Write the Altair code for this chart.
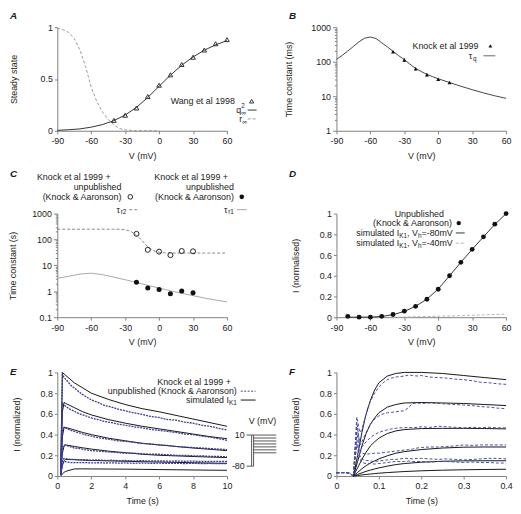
import altair as alt
import pandas as pd

# ---------------- data ----------------
# Panel A
A_V_wang = [-40, -30, -20, -10, 0, 10, 20, 30, 40, 50, 60]
A_wang = [0.10, 0.15, 0.22, 0.33, 0.44, 0.54, 0.64, 0.71, 0.78, 0.84, 0.88]
A_V_q = [-90, -80, -70, -60, -50, -40, -30, -20, -10, 0, 10, 20, 30, 40, 50, 60]
A_q2 = [0.004, 0.01, 0.018, 0.035, 0.06, 0.098, 0.152, 0.226, 0.322, 0.43, 0.537, 0.633, 0.713, 0.778, 0.83, 0.87]
A_V_r = [-90, -85, -80, -75, -70, -65, -60, -55, -50, -45, -40, -35, -30, -25, -20, -10, 0]
A_r = [0.99, 0.975, 0.95, 0.89, 0.78, 0.62, 0.42, 0.28, 0.18, 0.11, 0.055, 0.022, 0.009, 0.004, 0.002, 0.0005, 0.0]

# Panel B
B_V = [-90, -85, -80, -75, -70, -65, -60, -55, -50, -45, -40, -35, -30, -25, -20, -15, -10, -5, 0, 10, 20, 30, 40, 50, 60]
B_tau = [117, 152, 204, 277, 378, 482, 520, 470, 355, 270, 200, 150, 115, 85, 64, 52, 43, 37, 32, 25, 19.5, 15.5, 12.5, 10.3, 8.7]
B_V_pts = [-40, -30, -20, -10, 0, 10]
B_pts = [195, 112, 62, 42, 31, 25]
B_lo = [180, 98, 56, 37, 29, 24]
B_hi = [210, 128, 69, 47, 33, 26]

# Panel C
C_V = [-90, -80, -70, -60, -50, -40, -30, -20, -10, 0, 10, 20, 30, 40, 50, 60]
C_r1 = [3.2, 3.8, 4.6, 5.0, 4.4, 3.5, 2.8, 2.2, 1.7, 1.33, 1.05, 0.83, 0.68, 0.55, 0.46, 0.39]
C_V2 = [-90, -60, -40, -35, -30, -25, -20, -15, -10, -5, 0, 5, 10, 20, 40, 60]
C_r2 = [250, 250, 250, 250, 240, 205, 150, 90, 52, 37, 32, 30.5, 30, 30, 30, 30]
C_V_pts = [-20, -10, 0, 10, 20, 30]
C_pts_r2 = [165, 40, 34, 25, 36, 35]
C_pts_r1 = [2.25, 1.33, 1.18, 0.8, 1.02, 0.87]

# Panel D
D_V_pts = [-80, -70, -60, -50, -40, -30, -20, -10, 0, 10, 20, 30, 40, 50, 60]
D_I = [0.008, 0.0, 0.0, 0.008, 0.026, 0.058, 0.105, 0.173, 0.27, 0.40, 0.53, 0.655, 0.776, 0.898, 1.0]
D_V_80 = [-80, -70, -60, -50, -40, -30, -20, -10, 0, 10, 20, 30, 40, 50, 60]
D_I_80 = [0.0, 0.0, 0.001, 0.007, 0.024, 0.056, 0.105, 0.175, 0.272, 0.40, 0.53, 0.655, 0.776, 0.895, 1.0]
D_V_40 = [-40, -20, 0, 20, 40, 60]
D_I_40 = [0.0, 0.004, 0.009, 0.015, 0.022, 0.03]
D_err_V = [-80]
D_err_lo = [0.0]
D_err_hi = [0.025]

# Panel E
E_t_sim = [0.2, 0.3, 0.4, 0.5, 1, 1.5, 2, 3, 4, 5, 6, 7, 8, 9, 10]
E_sim = [
    [0.02, 1.0, 0.985, 0.97, 0.90, 0.85, 0.80, 0.74, 0.69, 0.65, 0.62, 0.585, 0.55, 0.515, 0.48],
    [0.02, 0.62, 0.71, 0.70, 0.66, 0.62, 0.59, 0.545, 0.51, 0.48, 0.455, 0.43, 0.405, 0.38, 0.36],
    [0.02, 0.38, 0.47, 0.468, 0.445, 0.42, 0.40, 0.365, 0.34, 0.315, 0.30, 0.285, 0.27, 0.258, 0.245],
    [0.01, 0.22, 0.29, 0.30, 0.285, 0.272, 0.26, 0.24, 0.225, 0.21, 0.20, 0.194, 0.188, 0.183, 0.178],
    [0.01, 0.10, 0.15, 0.16, 0.157, 0.153, 0.15, 0.146, 0.142, 0.138, 0.135, 0.131, 0.128, 0.125, 0.122],
    [0.0, 0.02, 0.035, 0.045, 0.068, 0.069, 0.068, 0.067, 0.066, 0.064, 0.062, 0.06, 0.058, 0.056, 0.055],
]
E_t_dat = [0.2, 0.3, 0.4, 0.6, 0.8, 1.0, 1.3, 1.6, 2.0, 2.4, 2.8, 3.2, 3.6, 4.0, 4.5, 5.0, 5.5, 6.0, 6.5, 7.0, 7.5, 8.0, 8.5, 9.0, 9.5, 10.0]
E_dat = [
    [0.05, 0.98, 0.95, 0.915, 0.875, 0.85, 0.81, 0.775, 0.735, 0.71, 0.68, 0.665, 0.645, 0.63, 0.61, 0.595, 0.575, 0.565, 0.545, 0.54, 0.52, 0.51, 0.49, 0.48, 0.46, 0.445],
    [0.04, 0.70, 0.685, 0.66, 0.64, 0.625, 0.60, 0.585, 0.56, 0.545, 0.525, 0.515, 0.50, 0.49, 0.475, 0.465, 0.45, 0.44, 0.43, 0.42, 0.405, 0.40, 0.385, 0.375, 0.36, 0.345],
    [0.03, 0.45, 0.47, 0.455, 0.44, 0.43, 0.415, 0.40, 0.385, 0.37, 0.36, 0.35, 0.34, 0.335, 0.325, 0.315, 0.31, 0.30, 0.295, 0.285, 0.28, 0.275, 0.27, 0.265, 0.26, 0.255],
    [0.02, 0.28, 0.30, 0.29, 0.28, 0.27, 0.265, 0.255, 0.245, 0.24, 0.235, 0.23, 0.225, 0.22, 0.22, 0.215, 0.21, 0.21, 0.205, 0.20, 0.20, 0.195, 0.195, 0.19, 0.19, 0.185],
    [0.02, 0.15, 0.17, 0.165, 0.16, 0.16, 0.155, 0.158, 0.152, 0.155, 0.15, 0.152, 0.148, 0.15, 0.146, 0.148, 0.145, 0.146, 0.143, 0.145, 0.142, 0.144, 0.14, 0.142, 0.14, 0.14],
    [0.01, 0.12, 0.14, 0.135, 0.13, 0.13, 0.128, 0.13, 0.126, 0.128, 0.125, 0.127, 0.124, 0.126, 0.123, 0.125, 0.122, 0.124, 0.121, 0.123, 0.12, 0.122, 0.12, 0.121, 0.119, 0.12],
]

# Panel F
F_t_sim = [0.04, 0.05, 0.06, 0.07, 0.08, 0.09, 0.1, 0.12, 0.14, 0.16, 0.2, 0.25, 0.3, 0.35, 0.4]
F_sim = [
    [0.0, 0.2, 0.42, 0.6, 0.73, 0.83, 0.9, 0.965, 0.99, 1.0, 1.0, 0.99, 0.97, 0.95, 0.93],
    [0.0, 0.14, 0.29, 0.41, 0.5, 0.56, 0.61, 0.665, 0.69, 0.705, 0.71, 0.705, 0.70, 0.69, 0.68],
    [0.0, 0.08, 0.16, 0.23, 0.29, 0.33, 0.365, 0.41, 0.435, 0.448, 0.458, 0.46, 0.46, 0.458, 0.455],
    [0.0, 0.035, 0.07, 0.10, 0.125, 0.145, 0.165, 0.195, 0.22, 0.235, 0.255, 0.27, 0.278, 0.28, 0.28],
    [0.0, 0.015, 0.03, 0.045, 0.057, 0.068, 0.078, 0.095, 0.11, 0.12, 0.133, 0.142, 0.146, 0.147, 0.147],
    [0.0, 0.005, 0.01, 0.015, 0.019, 0.023, 0.027, 0.033, 0.038, 0.043, 0.05, 0.056, 0.06, 0.063, 0.065],
]
F_t_dat = [0, 0.01, 0.02, 0.03, 0.04, 0.048, 0.055, 0.06, 0.07, 0.08, 0.09, 0.1, 0.11, 0.12, 0.13, 0.14,
           0.15, 0.16, 0.17, 0.18, 0.19, 0.2, 0.22, 0.24, 0.26, 0.28, 0.3, 0.32, 0.34, 0.36, 0.38, 0.4]
F_dat = [
    [0.035, 0.03, 0.035, 0.03, 0.0, 0.57, 0.42, 0.45, 0.6, 0.72, 0.8, 0.86, 0.9, 0.93, 0.945, 0.955, 0.96, 0.965, 0.975, 0.97, 0.965, 0.97, 0.955, 0.95, 0.945, 0.935, 0.93, 0.92, 0.905, 0.90, 0.89, 0.885],
    [0.03, 0.035, 0.03, 0.03, 0.0, 0.52, 0.30, 0.33, 0.42, 0.50, 0.55, 0.58, 0.60, 0.61, 0.615, 0.62, 0.625, 0.63, 0.66, 0.70, 0.705, 0.70, 0.705, 0.70, 0.695, 0.69, 0.685, 0.68, 0.67, 0.665, 0.655, 0.65],
    [0.03, 0.03, 0.035, 0.03, 0.0, 0.48, 0.32, 0.28, 0.33, 0.37, 0.40, 0.42, 0.435, 0.445, 0.455, 0.46, 0.465, 0.465, 0.47, 0.465, 0.47, 0.475, 0.47, 0.48, 0.475, 0.47, 0.465, 0.47, 0.465, 0.47, 0.465, 0.465],
    [0.03, 0.035, 0.03, 0.03, 0.0, 0.42, 0.25, 0.22, 0.21, 0.215, 0.22, 0.22, 0.225, 0.23, 0.235, 0.24, 0.245, 0.25, 0.255, 0.26, 0.27, 0.275, 0.28, 0.28, 0.285, 0.29, 0.30, 0.295, 0.30, 0.30, 0.30, 0.30],
    [0.03, 0.03, 0.035, 0.03, 0.0, 0.35, 0.20, 0.16, 0.15, 0.145, 0.14, 0.145, 0.15, 0.155, 0.16, 0.16, 0.165, 0.17, 0.17, 0.165, 0.17, 0.17, 0.165, 0.16, 0.165, 0.16, 0.155, 0.16, 0.165, 0.17, 0.17, 0.165],
    [0.03, 0.035, 0.03, 0.03, 0.0, 0.30, 0.17, 0.13, 0.12, 0.12, 0.115, 0.12, 0.125, 0.13, 0.135, 0.14, 0.14, 0.14, 0.145, 0.14, 0.14, 0.14, 0.135, 0.14, 0.14, 0.135, 0.13, 0.135, 0.13, 0.13, 0.125, 0.125],
]

# axis tick values / labels
V_TICKS = [-90, -60, -30, 0, 30, 60]
UNIT_TICKS_A = [0, 0.5, 1]
UNIT_TICKS = [0, 0.2, 0.4, 0.6, 0.8, 1]
E_TICKS = [0, 2, 4, 6, 8, 10]
F_TICKS = [0, 0.1, 0.2, 0.3, 0.4]
LOG_B = [round(m * 10 ** e, 6) for e in range(0, 3) for m in range(1, 10)] + [1000]
LOG_C = [round(m * 10 ** e, 6) for e in range(-1, 3) for m in range(1, 10)] + [1000]

# ---------------- style ----------------
FONT = "Liberation Sans"
TXT = "#1a1a1a"
AXC = "#808080"
BLUE = "#3a3a9c"
W, H = 172, 105
ONE = pd.DataFrame({"o": [0]})
XTP = 6

CW = {' ': 278, '(': 333, ')': 333, '+': 584, ',': 278, '-': 333, '.': 278, '=': 584, '&': 667,
      'A': 667, 'I': 278, 'K': 667, 'U': 722, 'V': 667, 'W': 944,
      'a': 556, 'b': 556, 'c': 500, 'd': 556, 'e': 556, 'f': 278, 'g': 556, 'h': 556, 'i': 222,
      'k': 500, 'l': 222, 'm': 833, 'n': 556, 'o': 556, 'p': 556, 'q': 556, 'r': 333, 's': 500,
      't': 278, 'u': 556, 'v': 500, 'w': 722, 'x': 500, 'y': 500, 'z': 500,
      '\u03c4': 470, '\u221e': 713}


def tw(s, size):
    return sum(CW.get(c, 556) for c in s) * size / 1000.0


def T(s, x, y, size=9, align="left", color=TXT, weight="normal", style="normal", dy=0):
    return alt.Chart(ONE).mark_text(text=s, align=align, baseline="middle", font=FONT, fontSize=size,
                                    color=color, fontWeight=weight, fontStyle=style, dy=dy).encode(
        x=alt.value(x), y=alt.value(y))


def rich(segs, xr, y, size=9):
    sub = round(size * 0.72, 2)
    pos, prev, items = 0.0, 0.0, []
    for s, k in segs:
        if k == "n":
            items.append((s, pos, size, 0)); prev = pos; pos += tw(s, size)
        elif k == "b":
            items.append((s, pos, sub, 2.8)); prev = pos; pos += tw(s, sub)
        else:
            items.append((s, prev, sub, -3.6))
    x0 = xr - pos
    return [T(s, x0 + o, y, size=sz, dy=dy) for s, o, sz, dy in items]


def LR(x1, x2, y, color, dash=None, width=1):
    kw = dict(color=color, strokeWidth=width)
    if dash:
        kw["strokeDash"] = dash
    return alt.Chart(ONE).mark_rule(**kw).encode(x=alt.value(x1), x2=alt.value(x2), y=alt.value(y))


def LV(x, y1, y2, color):
    return alt.Chart(ONE).mark_rule(color=color, strokeWidth=1).encode(x=alt.value(x), y=alt.value(y1), y2=alt.value(y2))


def LP(x, y, shape, filled, color, size):
    return alt.Chart(ONE).mark_point(shape=shape, filled=filled, color=color, size=size, opacity=1,
                                     strokeWidth=1).encode(x=alt.value(x), y=alt.value(y))


def letter(s, y):
    return T(s, -48, y, size=10, weight="bold", style="italic")


ISDEC = "abs(log(datum.value)/LN10 - round(log(datum.value)/LN10)) < 0.001"


def axis(values, title, tp, lp=2, log=False):
    kw = dict(values=values, title=title, titlePadding=tp, labelPadding=lp, labelOverlap=False,
              labelFlush=False)
    if log:
        kw["labelExpr"] = "(" + ISDEC + ") ? (datum.value + '') : ''"
        kw["tickSize"] = {"condition": {"test": ISDEC, "value": 4}, "value": 2}
    else:
        kw["labelExpr"] = "datum.value + ''"
    return alt.Axis(**kw)


def lin(d):
    return alt.Scale(domain=d, nice=False, zero=False)


def lg(d):
    return alt.Scale(type="log", domain=d, nice=False)


def enc(xf, yf, xs, ys, xa, ya):
    return dict(x=alt.X(xf, type="quantitative", scale=xs, axis=xa),
                y=alt.Y(yf, type="quantitative", scale=ys, axis=ya))


def line(df, xf, yf, xs, ys, xa, ya, color, dash=None, width=1.0, detail=None):
    kw = dict(color=color, strokeWidth=width)
    if dash:
        kw["strokeDash"] = dash
    e = enc(xf, yf, xs, ys, xa, ya)
    if detail:
        e["detail"] = alt.Detail(detail, type="nominal")
    return alt.Chart(df).mark_line(**kw).encode(**e)


def pts(df, xf, yf, xs, ys, xa, ya, shape, filled, color, size):
    return alt.Chart(df).mark_point(shape=shape, filled=filled, color=color, size=size, opacity=1,
                                    strokeWidth=1).encode(**enc(xf, yf, xs, ys, xa, ya))


def errbars(df, xf, lo, hi, xs, ys, xa, ya, color):
    e = enc(xf, lo, xs, ys, xa, ya)
    e["y2"] = alt.Y2(hi)
    return alt.Chart(df).mark_rule(color=color, strokeWidth=1).encode(**e)


def long(t, traces):
    d = {"t": [], "v": [], "k": []}
    for i, tr in enumerate(traces):
        d["t"] += list(t); d["v"] += list(tr); d["k"] += [i] * len(t)
    return pd.DataFrame(d)


# ---------------- panel A ----------------
xs, ys = lin([-90, 60]), lin([0, 1])
xa, ya = axis(V_TICKS, "V (mV)", XTP, lp=3), axis(UNIT_TICKS_A, "Steady state", 21.5)
pA = alt.layer(
    line(pd.DataFrame({"V": A_V_r, "y": A_r}), "V", "y", xs, ys, xa, ya, "#9a9a9a", dash=[3, 2]),
    line(pd.DataFrame({"V": A_V_q, "y": A_q2}), "V", "y", xs, ys, xa, ya, "#333333"),
    pts(pd.DataFrame({"V": A_V_wang, "y": A_wang}), "V", "y", xs, ys, xa, ya, "triangle-up", False, "#333333", 22),
    T("Wang et al 1998", 180, 75, align="right"),
    LP(197, 75, "triangle-up", False, "#333333", 18),
    *rich([("q", "n"), ("\u221e", "b"), ("2", "p")], 191, 84),
    LR(193, 202, 84, "#333333"),
    *rich([("r", "n"), ("\u221e", "b")], 192, 93),
    LR(193, 202, 93, "#9a9a9a", dash=[3, 2]),
    letter("A", -11),
).properties(width=W, height=H)

# ---------------- panel B ----------------
xs, ys = lin([-90, 60]), lg([1, 1000])
xa, ya = axis(V_TICKS, "V (mV)", XTP, lp=3), axis(LOG_B, "Time constant (ms)", 17.5, log=True)
dfB = pd.DataFrame({"V": B_V_pts, "y": B_pts, "lo": B_lo, "hi": B_hi})
pB = alt.layer(
    line(pd.DataFrame({"V": B_V, "y": B_tau}), "V", "y", xs, ys, xa, ya, "#444444"),
    errbars(dfB, "V", "lo", "hi", xs, ys, xa, ya, "#555555"),
    pts(dfB, "V", "y", xs, ys, xa, ya, "triangle-up", True, "#111111", 16),
    T("Knock et al 1999", 144, 19, align="right"),
    LP(156, 19, "triangle-up", True, "#111111", 14),
    *rich([("\u03c4", "n"), ("q", "b")], 142, 29),
    LR(149, 161, 29, "#666666"),
    letter("B", -11),
).properties(width=W, height=H)

# ---------------- panel C ----------------
xs, ys = lin([-90, 60]), lg([0.1, 1000])
xa, ya = axis(V_TICKS, "V (mV)", XTP, lp=3), axis(LOG_C, "Time constant (s)", 14.5, log=True)
dfC = pd.DataFrame({"V": C_V_pts, "r2": C_pts_r2, "r1": C_pts_r1})
pC = alt.layer(
    line(pd.DataFrame({"V": C_V2, "y": C_r2}), "V", "y", xs, ys, xa, ya, "#888888", dash=[3, 2]),
    line(pd.DataFrame({"V": C_V, "y": C_r1}), "V", "y", xs, ys, xa, ya, "#a8a8a8"),
    pts(dfC, "V", "r2", xs, ys, xa, ya, "circle", False, "#222222", 26),
    pts(dfC, "V", "r1", xs, ys, xa, ya, "circle", True, "#111111", 26),
    T("Knock et al 1999 +", 54, -37, align="right"),
    T("unpublished", 65, -27, align="right"),
    T("(Knock & Aaronson)", 65, -17, align="right"),
    LP(74, -17, "circle", False, "#222222", 22),
    *rich([("\u03c4", "n"), ("r2", "b")], 70, -4),
    LR(73, 82, -4, "#888888", dash=[3, 2]),
    T("Knock et al 1999 +", 173, -37, align="right"),
    T("unpublished", 179, -27, align="right"),
    T("(Knock & Aaronson)", 179, -17, align="right"),
    LP(187, -17, "circle", True, "#111111", 22),
    *rich([("\u03c4", "n"), ("r1", "b")], 179, -4),
    LR(182, 192, -4, "#a8a8a8"),
    letter("C", -40),
).properties(width=W, height=H)

# ---------------- panel D ----------------
xs, ys = lin([-90, 60]), lin([0, 1])
xa, ya = axis(V_TICKS, "V (mV)", XTP, lp=3), axis(UNIT_TICKS, "I (normalised)", 18.5)
pD = alt.layer(
    line(pd.DataFrame({"V": D_V_40, "y": D_I_40}), "V", "y", xs, ys, xa, ya, "#b5b5b5", dash=[3, 2]),
    line(pd.DataFrame({"V": D_V_80, "y": D_I_80}), "V", "y", xs, ys, xa, ya, "#333333"),
    errbars(pd.DataFrame({"V": D_err_V, "lo": D_err_lo, "hi": D_err_hi}), "V", "lo", "hi", xs, ys, xa, ya, "#333333"),
    pts(pd.DataFrame({"V": D_V_pts, "y": D_I}), "V", "y", xs, ys, xa, ya, "circle", True, "#111111", 24),
    T("Unpublished", 109, 0, align="right"),
    T("(Knock & Aaronson)", 117, 9.6, align="right"),
    LP(124, 9.6, "circle", True, "#111111", 20),
    *rich([("simulated I", "n"), ("K1", "b"), (", V", "n"), ("h", "b"), ("=-80mV", "n")], 118, 19.6),
    LR(121, 130, 19.6, "#333333"),
    *rich([("simulated I", "n"), ("K1", "b"), (", V", "n"), ("h", "b"), ("=-40mV", "n")], 118, 30),
    LR(121, 130, 30, "#b5b5b5", dash=[3, 2]),
    letter("D", -40),
).properties(width=W, height=H)

# ---------------- panel E ----------------
xs, ys = lin([0, 10]), lin([0, 1])
xa, ya = axis(E_TICKS, "Time (s)", XTP, lp=3), axis(UNIT_TICKS, "I (normalized)", 18.5)
pE = alt.layer(
    line(long(E_t_sim, E_sim), "t", "v", xs, ys, xa, ya, "#151515", detail="k"),
    line(long(E_t_dat, E_dat), "t", "v", xs, ys, xa, ya, BLUE, dash=[2, 1], width=1.3, detail="k"),
    T("Knock et al 1999 +", 176, 10, align="right"),
    T("unpublished (Knock & Aaronson)", 182, 19, align="right"),
    LR(186, 201, 19, BLUE, dash=[2, 1.5]),
    *rich([("simulated I", "n"), ("K1", "b")], 182, 28),
    LR(186, 201, 28, "#151515"),
    T("V (mV)", 208, 49, align="center"),
    T("10", 190, 63.5, align="right"),
    T("-80", 190, 95, align="right"),
    LR(192, 222, 63.5, "#555555"),
    LV(197, 63.5, 95, "#555555"),
    LV(199, 63.5, 95, "#555555"),
    LR(192, 199, 95, "#555555"),
    LR(199, 222, 66.5, "#555555"),
    LR(199, 222, 69.5, "#555555"),
    LR(199, 222, 72.5, "#555555"),
    LR(199, 222, 75.5, "#555555"),
    LR(199, 222, 78.5, "#555555"),
    LR(199, 222, 81.5, "#555555"),
    letter("E", 0),
).properties(width=W, height=H)

# ---------------- panel F ----------------
xs, ys = lin([0, 0.4]), lin([0, 1])
xa, ya = axis(F_TICKS, "Time (s)", XTP, lp=3), axis(UNIT_TICKS, "I (normalized)", 18.5)
pF = alt.layer(
    line(long(F_t_sim, F_sim), "t", "v", xs, ys, xa, ya, "#151515", detail="k"),
    line(long(F_t_dat, F_dat), "t", "v", xs, ys, xa, ya, "#4a4aa8", dash=[3, 2], width=1.0, detail="k"),
    letter("F", 0),
).properties(width=W, height=H)

row1 = alt.hconcat(pA, pB, spacing=111, bounds="flush")
row2 = alt.hconcat(pC, pD, spacing=111, bounds="flush")
row3 = alt.hconcat(pE, pF, spacing=111, bounds="flush")

chart = alt.vconcat(
    alt.vconcat(row1, row2, spacing=9),
    row3, spacing=21, padding=0,
).configure_axis(
    domainColor=AXC, tickColor=AXC, labelColor=TXT, titleColor=TXT, labelFont=FONT, titleFont=FONT,
    labelFontSize=9, titleFontSize=9, titleFontWeight="normal", tickSize=3, grid=False,
    domainWidth=1, tickWidth=1,
).configure_view(stroke=None).configure_text(font=FONT)

chart.save("out.html", embed_options={"renderer": "svg", "actions": False})
